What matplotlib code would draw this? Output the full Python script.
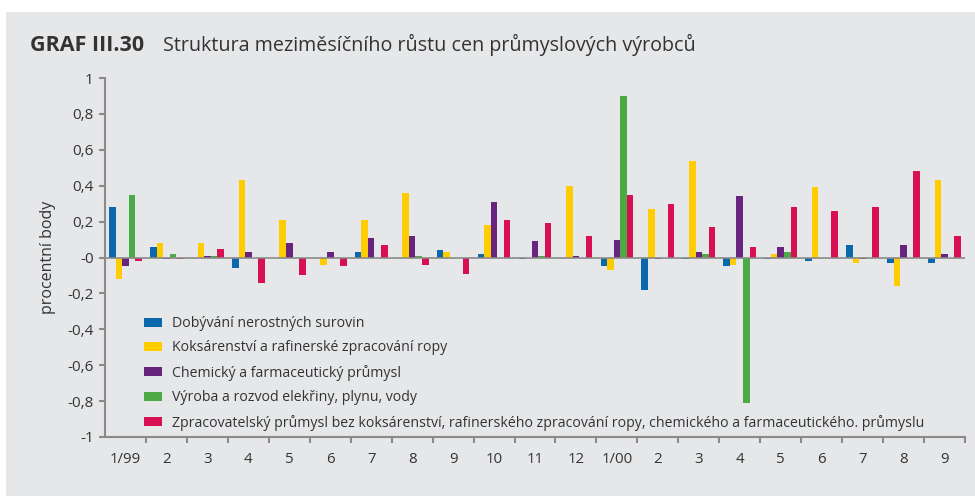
import numpy as np
import matplotlib.pyplot as plt
from matplotlib.patches import Rectangle

# Měsíce (1/99 - 9/00)
mesice = ['1/99', '2', '3', '4', '5', '6', '7', '8', '9', '10', '11', '12',
          '1/00', '2', '3', '4', '5', '6', '7', '8', '9']

# Příspěvky jednotlivých odvětví k meziměsíčnímu růstu cen (procentní body)
dobyvani = [0.28, 0.06, 0.00, -0.06, 0.00, 0.00, 0.03, 0.00, 0.04, 0.02, -0.01, 0.00,
            -0.05, -0.18, -0.01, -0.05, -0.01, -0.02, 0.07, -0.03, -0.03]
koksarenstvi = [-0.12, 0.08, 0.08, 0.43, 0.21, -0.04, 0.21, 0.36, 0.03, 0.18, 0.00, 0.40,
                -0.07, 0.27, 0.54, -0.04, 0.02, 0.39, -0.03, -0.16, 0.43]
chemicky = [-0.05, -0.01, 0.01, 0.03, 0.08, 0.03, 0.11, 0.12, 0.00, 0.31, 0.09, 0.01,
            0.10, -0.01, 0.03, 0.34, 0.06, 0.00, -0.01, 0.07, 0.02]
energie = [0.35, 0.02, 0.01, 0.00, 0.00, 0.00, 0.00, 0.01, 0.00, 0.00, 0.01, 0.00,
           0.90, 0.00, 0.02, -0.81, 0.03, 0.00, 0.00, 0.00, 0.00]
zpracovatelsky = [-0.02, -0.01, 0.05, -0.14, -0.10, -0.05, 0.07, -0.04, -0.09, 0.21, 0.19, 0.12,
                  0.35, 0.30, 0.17, 0.06, 0.28, 0.26, 0.28, 0.48, 0.12]

nazvy = ['Dobývání nerostných surovin',
         'Koksárenství a rafinerské zpracování ropy',
         'Chemický a farmaceutický průmysl',
         'Výroba a rozvod elekřiny, plynu, vody',
         'Zpracovatelský průmysl bez koksárenství, rafinerského zpracování ropy, '
         'chemického a farmaceutického. průmyslu']
barvy = ['#0a68ab', '#ffcc00', '#68237f', '#4caa45', '#d80f53']

pozadi = '#e6e7e9'
sediva = '#8a8a8a'
text_barva = '#333333'
plt.rcParams['font.family'] = ['Open Sans', 'DejaVu Sans']

fig = plt.figure(figsize=(9.75, 4.96), dpi=100)
fig.patch.set_facecolor('white')
fig.patches.append(Rectangle((6 / 975, 0), 1, 1 - 12 / 496, transform=fig.transFigure,
                             facecolor=pozadi, edgecolor='none', zorder=-10))

ax = fig.add_axes([105 / 975, 59 / 496, 860 / 975, 359 / 496])
ax.set_facecolor(pozadi)

x = np.arange(len(mesice))
sirka = 0.16
rady = [dobyvani, koksarenstvi, chemicky, energie, zpracovatelsky]
for i, (hodnoty, nazev, barva) in enumerate(zip(rady, nazvy, barvy)):
    ax.bar(x + (i - 2) * sirka, hodnoty, width=sirka, color=barva, label=nazev, zorder=3)

ax.axhline(0, color=sediva, linewidth=1.2, zorder=4)

ax.set_xlim(-0.5, len(mesice) - 0.5)
ax.set_ylim(-1, 1)
yt = np.arange(-1, 1.01, 0.2)
ax.set_yticks(yt)
ax.set_yticklabels([('%g' % round(v, 1)).replace('.', ',') for v in yt])
ax.set_xticks(x)
ax.set_xticklabels(mesice)
ax.set_xticks(np.arange(0.5, len(mesice), 1), minor=True)
ax.tick_params(axis='x', which='major', length=0, pad=11, labelsize=10.8, labelcolor=text_barva)
ax.tick_params(axis='x', which='minor', length=4, width=1.5, color=sediva)
ax.tick_params(axis='y', length=4, width=1.5, color=sediva, labelsize=11,
               labelcolor=text_barva, pad=4)

for s in ['top', 'right']:
    ax.spines[s].set_visible(False)
for s in ['left', 'bottom']:
    ax.spines[s].set_color(sediva)
    ax.spines[s].set_linewidth(1.5)

ax.set_ylabel('procentní body', fontsize=11.5, color=text_barva, labelpad=8)

leg = ax.legend(loc='upper left', bbox_to_anchor=(39 / 860, 121 / 359), frameon=False,
                fontsize=10.2, handlelength=1.3, handleheight=0.6, handletextpad=0.65,
                labelspacing=0.67, borderpad=0, borderaxespad=0)
for t in leg.get_texts():
    t.set_color(text_barva)

fig.text(30 / 975, 1 - 51 / 496, 'GRAF III.30', fontsize=15.5, fontweight='bold',
         color=text_barva, va='baseline')
fig.text(163 / 975, 1 - 51 / 496,
         'Struktura meziměsíčního růstu cen průmyslových výrobců',
         fontsize=14.2, color=text_barva, va='baseline')

fig.savefig('out.png', dpi=100, facecolor=fig.get_facecolor())
